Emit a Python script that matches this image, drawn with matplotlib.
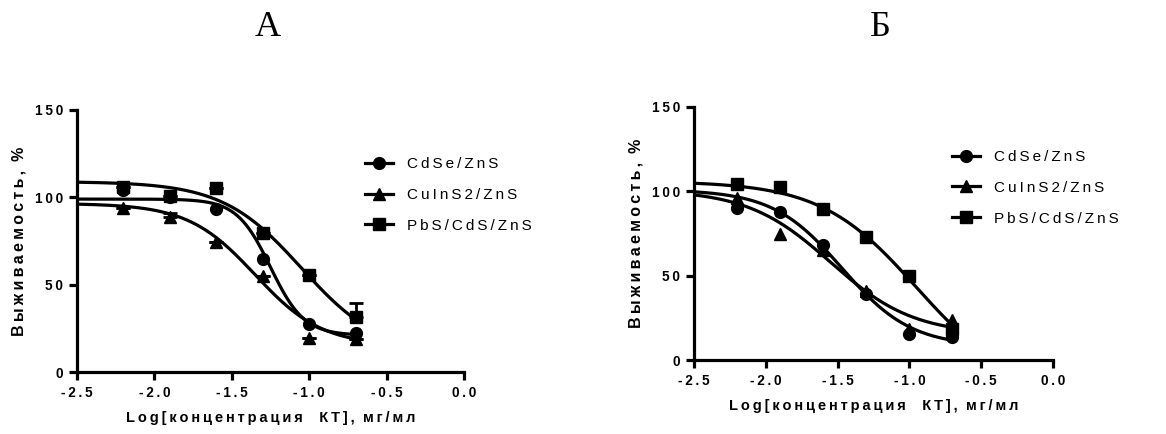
import numpy as np
import matplotlib
matplotlib.use("Agg")
import matplotlib.pyplot as plt
from matplotlib.lines import Line2D

# Log concentration of quantum dots, mg/ml
log_conc = [-2.2, -1.9, -1.6, -1.3, -1.0, -0.7]
series_names = ["CdSe/ZnS", "CuInS2/ZnS", "PbS/CdS/ZnS"]
markers = ["o", "^", "s"]

# Panel A: survival, %
a_cdse = [104, 100, 93.5, 64.5, 27.5, 22.5]
a_cuins = [94, 88.5, 74.5, 55, 19.5, 19]
a_pbs = [106, 101, 105.5, 79.5, 55.5, 31.5]
a_err_cuins = [0, 2.5, 0, 0, 0, 0]
a_err_pbs = [0, 0, 0, 0, 0, 8]

# Panel B: survival, %
b_cdse = [90, 87.7, 68, 39, 15.2, 13.8]
b_cuins = [96, 75, 65, 41, 18.5, 23.5]
b_pbs = [104.6, 102.3, 89.5, 72.8, 49.9, 18.3]

# Four-parameter logistic fits: (top, bottom, logEC50, hill)
a_fits = [(99, 21, -1.25, 4.0), (96.5, 15, -1.35, 2.0), (109, 10, -1.05, 1.7)]
b_fits = [(101, 8, -1.47, 1.8), (101, 15, -1.55, 1.5), (106, -20, -0.95, 1.3)]

x_ticks = [-2.5, -2.0, -1.5, -1.0, -0.5, 0.0]
y_ticks = [0, 50, 100, 150]

THIN = "\u2009"


def spaced(s, gap=THIN):
    return gap.join(s)


def logistic(x, top, bottom, logec50, hill):
    return bottom + (top - bottom) / (1 + 10 ** (hill * (x - logec50)))


plt.rcParams["font.family"] = ["Liberation Sans", "DejaVu Sans"]

fig = plt.figure(figsize=(11.66, 4.34), dpi=100)
ax_a = fig.add_axes([77 / 1166, 62 / 434, 387 / 1166, 262 / 434])
ax_b = fig.add_axes([694 / 1166, 74 / 434, 359 / 1166, 253 / 434])

LW = 2.3


def draw_panel(ax, values, fits, errs, legend_anchor):
    xs = np.linspace(-2.5, -0.7, 300)
    for vals, fit, mk, name, err in zip(values, fits, markers, series_names, errs):
        ax.plot(xs, logistic(xs, *fit), color="black", lw=LW, zorder=2,
                solid_capstyle="butt")
        if err is not None:
            ax.errorbar(log_conc, vals, yerr=[np.zeros(len(err)), err],
                        fmt="none", ecolor="black", elinewidth=2, capsize=5,
                        capthick=2, zorder=3)
        ax.plot(log_conc, vals, linestyle="none", marker=mk, color="black",
                markersize=8.5 if mk != "^" else 9, zorder=4)
    ax.set_xlim(-2.5, 0.0)
    ax.set_ylim(0, 150)
    ax.set_xticks(x_ticks)
    ax.set_yticks(y_ticks)
    ax.set_xticklabels([spaced(f"{t:.1f}") for t in x_ticks],
                       fontweight="bold", fontsize=9.8)
    ax.set_yticklabels([spaced(str(t)) for t in y_ticks],
                       fontweight="bold", fontsize=9.8)
    for side in ("top", "right"):
        ax.spines[side].set_visible(False)
    for side in ("left", "bottom"):
        ax.spines[side].set_linewidth(LW)
        ax.spines[side].set_capstyle("projecting")
    ax.tick_params(direction="out", length=6, width=LW, pad=4)
    ax.set_xlabel(spaced("Log[концентрация") + "    " + spaced("КТ],") + "  " + spaced("мг/мл"),
                  fontweight="bold", fontsize=10.5, labelpad=8)
    ax.set_ylabel(spaced("Выживаемость,") + "  %", fontweight="bold",
                  fontsize=11.5, labelpad=6)
    handles = [Line2D([0], [0], color="black", lw=LW, marker=mk,
                      markersize=8.5 if mk != "^" else 9)
               for mk in markers]
    ax.legend(handles, [spaced(n) for n in series_names],
              loc="upper left", bbox_to_anchor=legend_anchor, frameon=False,
              fontsize=11, handlelength=1.8, handletextpad=0.95,
              labelspacing=1.1, borderaxespad=0, borderpad=0)


draw_panel(ax_a, [a_cdse, a_cuins, a_pbs], a_fits,
           [None, a_err_cuins, a_err_pbs], (0.745, 0.82))
draw_panel(ax_b, [b_cdse, b_cuins, b_pbs], b_fits,
           [None, None, None], (0.72, 0.83))

fig.text(268 / 1166, 1 - 28 / 434, "А", family="Liberation Serif",
         fontsize=26, ha="center", va="center")
fig.text(880 / 1166, 1 - 28 / 434, "Б", family="Liberation Serif",
         fontsize=26, ha="center", va="center")

fig.savefig("out.png", dpi=100)
